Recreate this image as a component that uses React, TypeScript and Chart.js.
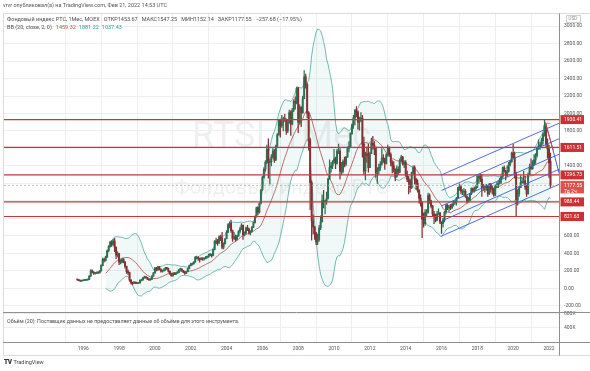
import React, { useEffect, useRef } from "react";
import { Chart, registerables } from "chart.js";
Chart.register(...registerables);

// month index 0 = Jan 1996; first candle Sep 1995
const firstMonth = -4;
const firstOpen = 100;
const lastOpen = 1453.67;

// monthly closes Sep 1995 .. Feb 2022
const closes = [
  95, 88, 84, 86,
  90, 92, 95, 100, 140, 200, 185, 170, 172, 180, 176, 200,
  260, 330, 320, 360, 430, 480, 530, 500, 540, 470, 380, 396,
  300, 300, 330, 300, 250, 190, 180, 95, 62, 55, 65, 59,
  58, 62, 95, 95, 120, 130, 120, 105, 95, 105, 140, 177,
  230, 210, 245, 215, 195, 200, 210, 230, 225, 195, 165, 143,
  170, 160, 175, 180, 210, 220, 200, 185, 170, 190, 225, 260,
  275, 280, 300, 355, 355, 340, 330, 345, 335, 340, 355, 359,
  380, 385, 375, 445, 540, 525, 520, 590, 570, 470, 510, 567,
  640, 730, 745, 660, 570, 590, 560, 600, 650, 680, 720, 614,
  630, 690, 680, 640, 650, 700, 750, 820, 920, 870, 970, 1125,
  1270, 1360, 1440, 1590, 1440, 1450, 1500, 1570, 1470, 1630, 1760, 1921,
  1860, 1900, 1940, 1930, 1800, 1900, 2010, 1880, 2040, 2140, 2120, 2290,
  1900, 2070, 2010, 2170, 2420, 2330, 2000, 1700, 1210, 770, 700, 632,
  530, 560, 690, 760, 1000, 990, 1000, 1030, 1250, 1380, 1400, 1445,
  1480, 1430, 1570, 1570, 1340, 1340, 1450, 1420, 1500, 1600, 1620, 1770,
  1870, 1950, 2040, 2020, 1900, 1920, 1950, 1650, 1340, 1540, 1520, 1381,
  1540, 1660, 1640, 1600, 1320, 1350, 1380, 1420, 1490, 1480, 1430, 1527,
  1610, 1530, 1440, 1400, 1360, 1280, 1360, 1330, 1460, 1500, 1420, 1442,
  1300, 1250, 1226, 1150, 1320, 1380, 1250, 1200, 1120, 1030, 980, 790,
  740, 870, 870, 1060, 1000, 940, 850, 820, 780, 850, 860, 757,
  740, 780, 870, 950, 930, 930, 920, 960, 990, 990, 1030, 1152,
  1160, 1110, 1110, 1110, 1050, 1000, 1010, 1080, 1140, 1110, 1140, 1154,
  1280, 1280, 1250, 1150, 1160, 1150, 1170, 1080, 1190, 1140, 1130, 1066,
  1170, 1180, 1200, 1250, 1280, 1380, 1340, 1290, 1340, 1420, 1450, 1549,
  1500, 1310, 1010, 1080, 1150, 1210, 1220, 1230, 1160, 1080, 1300, 1387,
  1370, 1410, 1470, 1520, 1600, 1630, 1640, 1690, 1760, 1860, 1650, 1596,
  1435.23, 1177.55,
];

const highs = [
  101, 97, 90, 89,
  93, 97, 99, 106, 145, 215, 210, 190, 180, 188, 186, 205,
  270, 345, 345, 370, 440, 490, 540, 545, 560, 571, 475, 420,
  400, 330, 345, 340, 305, 255, 210, 185, 100, 70, 80, 70,
  65, 66, 98, 105, 125, 140, 135, 125, 110, 110, 145, 180,
  240, 240, 250, 250, 225, 210, 225, 240, 240, 230, 200, 170,
  175, 180, 180, 190, 215, 230, 225, 205, 190, 195, 230, 265,
  285, 290, 305, 365, 370, 362, 345, 352, 350, 348, 365, 368,
  392, 400, 392, 450, 545, 575, 560, 600, 610, 640, 520, 570,
  660, 740, 760, 780, 665, 640, 610, 610, 660, 700, 740, 725,
  645, 700, 720, 690, 660, 705, 760, 830, 930, 935, 980, 1130,
  1280, 1380, 1460, 1640, 1710, 1480, 1530, 1600, 1590, 1640, 1770, 1925,
  1935, 1980, 1960, 1990, 1940, 1930, 2040, 2030, 2060, 2160, 2190, 2300,
  2300, 2100, 2080, 2200, 2490, 2450, 2350, 2020, 1720, 1230, 840, 710,
  640, 620, 720, 830, 1070, 1120, 1010, 1100, 1260, 1470, 1440, 1460,
  1590, 1500, 1590, 1650, 1600, 1440, 1470, 1500, 1510, 1620, 1680, 1780,
  1880, 1980, 2045, 2080, 2030, 1960, 2010, 1980, 1730, 1560, 1620, 1650,
  1560, 1720, 1740, 1680, 1620, 1380, 1420, 1450, 1600, 1530, 1490, 1540,
  1640, 1620, 1550, 1460, 1450, 1370, 1400, 1390, 1480, 1520, 1510, 1460,
  1460, 1340, 1280, 1250, 1330, 1400, 1400, 1260, 1240, 1130, 1070, 990,
  860, 900, 900, 1090, 1080, 1010, 950, 880, 850, 880, 910, 870,
  760, 800, 880, 960, 960, 950, 960, 970, 1000, 1010, 1040, 1155,
  1195, 1180, 1130, 1140, 1130, 1060, 1040, 1085, 1150, 1150, 1160, 1180,
  1290, 1300, 1310, 1300, 1190, 1180, 1190, 1180, 1200, 1200, 1170, 1150,
  1185, 1210, 1230, 1260, 1285, 1390, 1400, 1350, 1400, 1440, 1460, 1560,
  1647, 1560, 1330, 1130, 1170, 1290, 1260, 1340, 1280, 1180, 1320, 1420,
  1480, 1460, 1530, 1540, 1610, 1700, 1670, 1720, 1780, 1932, 1880, 1710,
  1640, 1547.25,
];

const lows = [
  93, 85, 80, 80,
  83, 87, 89, 92, 98, 135, 175, 160, 162, 168, 170, 172,
  195, 255, 300, 310, 350, 420, 470, 480, 490, 420, 340, 360,
  270, 280, 295, 290, 230, 170, 160, 80, 50, 38, 52, 55,
  52, 55, 60, 88, 92, 115, 115, 100, 90, 92, 100, 135,
  170, 200, 205, 210, 185, 185, 195, 205, 215, 185, 160, 140,
  140, 155, 158, 170, 175, 205, 195, 180, 160, 168, 188, 222,
  255, 265, 275, 298, 335, 320, 300, 325, 320, 322, 335, 345,
  355, 370, 355, 370, 440, 510, 490, 510, 545, 450, 450, 505,
  565, 640, 690, 640, 535, 560, 540, 550, 595, 630, 670, 560,
  600, 625, 660, 620, 610, 645, 695, 745, 815, 840, 860, 965,
  1120, 1260, 1340, 1430, 1260, 1190, 1400, 1490, 1440, 1460, 1620, 1750,
  1730, 1840, 1800, 1910, 1760, 1780, 1890, 1750, 1870, 2020, 2050, 2110,
  1780, 1880, 1850, 2000, 2170, 2290, 1950, 1580, 900, 550, 620, 560,
  500, 498, 540, 670, 760, 920, 850, 960, 1020, 1250, 1330, 1370,
  1430, 1370, 1420, 1540, 1250, 1300, 1320, 1390, 1400, 1500, 1560, 1610,
  1760, 1830, 1870, 1960, 1820, 1810, 1910, 1500, 1300, 1240, 1440, 1330,
  1380, 1540, 1590, 1530, 1270, 1200, 1310, 1350, 1410, 1440, 1360, 1420,
  1510, 1510, 1400, 1320, 1330, 1230, 1270, 1300, 1320, 1450, 1410, 1380,
  1280, 1220, 1080, 1100, 1140, 1300, 1190, 1130, 1100, 970, 940, 578,
  700, 720, 830, 860, 970, 920, 830, 740, 760, 770, 840, 740,
  628, 700, 760, 850, 900, 880, 900, 910, 940, 960, 950, 1030,
  1120, 1080, 1070, 1060, 1040, 980, 990, 1000, 1070, 1100, 1100, 1120,
  1150, 1200, 1220, 1050, 1120, 1100, 1120, 1050, 1070, 1100, 1080, 1050,
  1060, 1150, 1150, 1190, 1200, 1260, 1330, 1240, 1280, 1330, 1400, 1440,
  1490, 1260, 832, 950, 1050, 1150, 1200, 1200, 1130, 1050, 1080, 1300,
  1360, 1360, 1410, 1430, 1500, 1590, 1590, 1630, 1650, 1740, 1620, 1490,
  1270, 1152.14,
];

const yearTicks = [1996, 1998, 2000, 2002, 2004, 2006, 2008, 2010, 2012, 2014, 2016, 2018, 2020, 2022];
const priceTicks = [-200, 0, 200, 400, 600, 800, 1000, 1200, 1400, 1600, 1800, 2000, 2200, 2400, 2600, 2800, 3000];
const volumeTicks = [400000, 800000];
const levels = [1930.41, 1611.51, 1296.73, 988.44, 821.63];
const lastPrice = 1177.55;
const lastPriceSub = "7д 2ч";

// parallel channel (month index, values)
const channelFrom = 240;
const channelTo = 320;
const channelStartValues = [1297, 1120, 943, 770, 598];
const channelEndValues = [1898, 1721, 1544, 1371, 1199];
// short trend lines near the 2021 top
const redTrend = [{ x: 309.3, y: 1906 }, { x: 314.9, y: 1579 }];
const blueTrend = [{ x: 310.5, y: 1849 }, { x: 319.4, y: 1277 }];

const X_MIN = -53.1;
const X_MAX = 318.7;
const P_MIN = -279.2;
const P_MAX = 3144.2;

const UP = "#2f6f52";
const DOWN = "#833232";
const FONT = "Roboto, 'Liberation Sans', sans-serif";

export default function App() {
  const ref = useRef<HTMLCanvasElement | null>(null);

  useEffect(() => {
    const canvas = ref.current;
    if (!canvas) return;
    Chart.defaults.font.family = FONT;

    const opens = closes.map((_, i) => (i === 0 ? firstOpen : i === closes.length - 1 ? lastOpen : closes[i - 1]));
    const bodies = closes.map((c, i) => ({ x: firstMonth + i, y: [opens[i], c] }));
    const wicks = closes.map((_, i) => ({ x: firstMonth + i, y: [lows[i], highs[i]] }));
    const colors = closes.map((c, i) => (c >= opens[i] ? UP : DOWN));

    const mid: any[] = [], upper: any[] = [], lower: any[] = [];
    for (let i = 19; i < closes.length; i++) {
      const w = closes.slice(i - 19, i + 1);
      const m = w.reduce((a, b) => a + b, 0) / 20;
      const sd = Math.sqrt(w.reduce((a, b) => a + (b - m) * (b - m), 0) / 20);
      const x = firstMonth + i;
      mid.push({ x, y: m });
      upper.push({ x, y: m + 2 * sd });
      lower.push({ x, y: m - 2 * sd });
    }

    const lineBase = { type: "line", pointRadius: 0, tension: 0, fill: false };
    const datasets: any[] = [
      { ...lineBase, data: upper, borderColor: "#4fa89c", borderWidth: 0.8, order: 9 },
      { ...lineBase, data: lower, borderColor: "#4fa89c", borderWidth: 0.8, fill: "-1", backgroundColor: "rgba(38,166,154,0.07)", order: 9 },
      { ...lineBase, data: mid, borderColor: "#b04a46", borderWidth: 0.8, order: 8 },
      { type: "bar", data: wicks, backgroundColor: colors, barThickness: 0.6, grouped: false, minBarLength: 1, order: 7 },
      { type: "bar", data: bodies, backgroundColor: colors, barThickness: 1.3, grouped: false, minBarLength: 1, order: 6 },
      { ...lineBase, data: [{ x: X_MIN, y: lastPrice }, { x: X_MAX, y: lastPrice }], borderColor: "#b0b0b0", borderWidth: 0.8, borderDash: [2, 2], order: 5 },
    ];
    levels.forEach((v) => {
      datasets.push({ ...lineBase, data: [{ x: X_MIN, y: v }, { x: X_MAX, y: v }], borderColor: "#c0393b", borderWidth: 1.2, order: 2 });
    });
    channelStartValues.forEach((v, k) => {
      datasets.push({ ...lineBase, data: [{ x: channelFrom, y: v }, { x: channelTo, y: channelEndValues[k] }], borderColor: "#3d5fd6", borderWidth: 0.9, order: 1 });
    });
    datasets.push({ ...lineBase, data: redTrend, borderColor: "#d2453f", borderWidth: 1, order: 0 });
    datasets.push({ ...lineBase, data: blueTrend, borderColor: "#3d5fd6", borderWidth: 1, order: 0 });

    const overlay = {
      id: "overlay",
      afterDraw(chart: any) {
        const { ctx, chartArea } = chart;
        const ys = chart.scales.y;
        const xs = chart.scales.x;
        const W = chart.width;
        ctx.save();
        const hline = (y: number, x1: number, x2: number, c: string) => {
          ctx.strokeStyle = c; ctx.lineWidth = 1; ctx.beginPath();
          ctx.moveTo(x1, Math.round(y) + 0.5); ctx.lineTo(x2, Math.round(y) + 0.5); ctx.stroke();
        };
        const vline = (x: number, y1: number, y2: number, c: string) => {
          ctx.strokeStyle = c; ctx.lineWidth = 1; ctx.beginPath();
          ctx.moveTo(Math.round(x) + 0.5, y1); ctx.lineTo(Math.round(x) + 0.5, y2); ctx.stroke();
        };
        const L = chartArea.left - 1;
        hline(chartArea.top - 0.5, L, W, "#dcdcdc");
        vline(L, chartArea.top, xs.bottom, "#dcdcdc");
        hline(xs.bottom - 0.5, L, W, "#dcdcdc");
        hline(ys.bottom - 0.5, L, W, "#8f8f8f");
        hline(chartArea.bottom - 0.5, L, W, "#8f8f8f");
        vline(chartArea.right, chartArea.top, xs.bottom, "#8f8f8f");

        const bx = chartArea.right + 1.5;
        const bw = 23.5;
        ctx.font = `5px ${FONT}`;
        ctx.textAlign = "left";
        ctx.textBaseline = "middle";
        const box = (v: number, color: string, sub?: string) => {
          const py = ys.getPixelForValue(v);
          ctx.fillStyle = color;
          ctx.fillRect(bx, py - 4.5, bw, sub ? 12.5 : 9);
          ctx.fillStyle = "#fff";
          ctx.fillText(v.toFixed(2), bx + 3.5, py);
          if (sub) ctx.fillText(sub, bx + 3.5, py + 6);
        };
        levels.forEach((v) => box(v, "#cc3035"));
        box(lastPrice, "#e0524d", lastPriceSub);

        // currency tag
        ctx.strokeStyle = "#cfcfcf";
        ctx.strokeRect(Math.round(chartArea.right + 7) + 0.5, Math.round(chartArea.top + 1) + 0.5, 14, 7);
        ctx.fillStyle = "#8a8a8a";
        ctx.font = `4.5px ${FONT}`;
        ctx.fillText("USD", chartArea.right + 9.5, chartArea.top + 5);
        ctx.restore();
      },
    };

    const grid = { color: "#eeeeee", drawTicks: false, lineWidth: 1 };
    const tickFont = { size: 5, family: FONT };

    const chart = new Chart(canvas, {
      type: "bar",
      data: { datasets },
      options: {
        animation: false,
        responsive: false,
        devicePixelRatio: 1,
        events: [],
        layout: { padding: { left: 4, top: 13.5, right: 0, bottom: 15.3 } },
        plugins: { legend: { display: false }, tooltip: { enabled: false } },
        scales: {
          x: {
            type: "linear",
            min: X_MIN,
            max: X_MAX,
            offset: false,
            grid,
            border: { display: false },
            ticks: {
              font: tickFont, color: "#555", padding: 3, maxRotation: 0, autoSkip: false,
              callback: (v: any) => String(Math.round(1996 + v / 12)),
            },
            afterBuildTicks: (axis: any) => {
              axis.ticks = yearTicks.map((y) => ({ value: (y - 1996) * 12 }));
            },
            afterFit: (s: any) => { s.height = 13.4; },
          },
          y: {
            type: "linear",
            position: "right",
            stack: "panes",
            stackWeight: 299.2,
            min: P_MIN,
            max: P_MAX,
            grid,
            border: { display: false },
            ticks: {
              font: tickFont, color: "#555", padding: 5, autoSkip: false,
              callback: (v: any) => Number(v).toFixed(2),
            },
            afterBuildTicks: (axis: any) => {
              axis.ticks = priceTicks.map((v) => ({ value: v }));
            },
            afterFit: (s: any) => { s.width = 31; },
          },
          yVol: {
            type: "linear",
            position: "right",
            stack: "panes",
            stackWeight: 29.6,
            min: 0,
            max: 822000,
            grid,
            border: { display: false },
            ticks: {
              font: tickFont, color: "#555", padding: 5, autoSkip: false,
              callback: (v: any) => `${Math.round(v / 1000)}K`,
            },
            afterBuildTicks: (axis: any) => {
              axis.ticks = volumeTicks.map((v) => ({ value: v }));
            },
            afterFit: (s: any) => { s.width = 31; },
          },
        },
      } as any,
      plugins: [overlay as any],
    } as any);
    return () => chart.destroy();
  }, []);

  const small: React.CSSProperties = { position: "absolute", whiteSpace: "nowrap", lineHeight: 1, fontFamily: FONT, color: "#4d4d4d" };
  return (
    <div style={{ position: "fixed", left: 0, top: 0, width: 590, height: 371, background: "#fff", overflow: "hidden" }}>
      <div style={{ ...small, left: 0, width: 563, top: 117, textAlign: "center", fontSize: 36, color: "rgba(0,0,0,0.075)" }}>RTSI, 1Мес</div>
      <div style={{ ...small, left: 0, width: 563, top: 177, textAlign: "center", fontSize: 20, color: "rgba(0,0,0,0.075)" }}>Фондовый индекс РТС</div>
      <canvas ref={ref} width={590} height={371} style={{ position: "absolute", left: 0, top: 0, width: 590, height: 371 }} />
      <div style={{ ...small, left: 3, top: 3, fontSize: 5.5, color: "#555" }}>vrvr опубликовал(а) на TradingView.com, Фев 21, 2022 14:53 UTC</div>
      <div style={{ ...small, left: 7, top: 16.5, fontSize: 5.5 }}>
        Фондовый индекс РТС, 1Мес, MOEX
        <span style={{ marginLeft: 4 }}>ОТКР1453.67</span>
        <span style={{ marginLeft: 4 }}>МАКС1547.25</span>
        <span style={{ marginLeft: 4 }}>МИН1152.14</span>
        <span style={{ marginLeft: 4 }}>ЗАКР1177.55</span>
        <span style={{ marginLeft: 4 }}>−257.68 (−17.95%)</span>
      </div>
      <div style={{ ...small, left: 7, top: 24.5, fontSize: 5.5 }}>
        BB (20, close, 2, 0)
        <span style={{ marginLeft: 4, color: "#c0504d" }}>1459.32</span>
        <span style={{ marginLeft: 3, color: "#26a69a" }}>1881.22</span>
        <span style={{ marginLeft: 3, color: "#26a69a" }}>1037.43</span>
      </div>
      <div style={{ ...small, left: 7, top: 318.5, fontSize: 5.3 }}>Объём (20): Поставщик данных не предоставляет данные об объёме для этого инструмента.</div>
      <div style={{ ...small, left: 4, top: 359, fontSize: 6, color: "#333" }}>
        <span style={{ fontWeight: 900, fontSize: 6.5, letterSpacing: -0.5 }}>TV</span>
        <span style={{ marginLeft: 2, fontSize: 5.5, color: "#444" }}>TradingView</span>
      </div>
    </div>
  );
}
